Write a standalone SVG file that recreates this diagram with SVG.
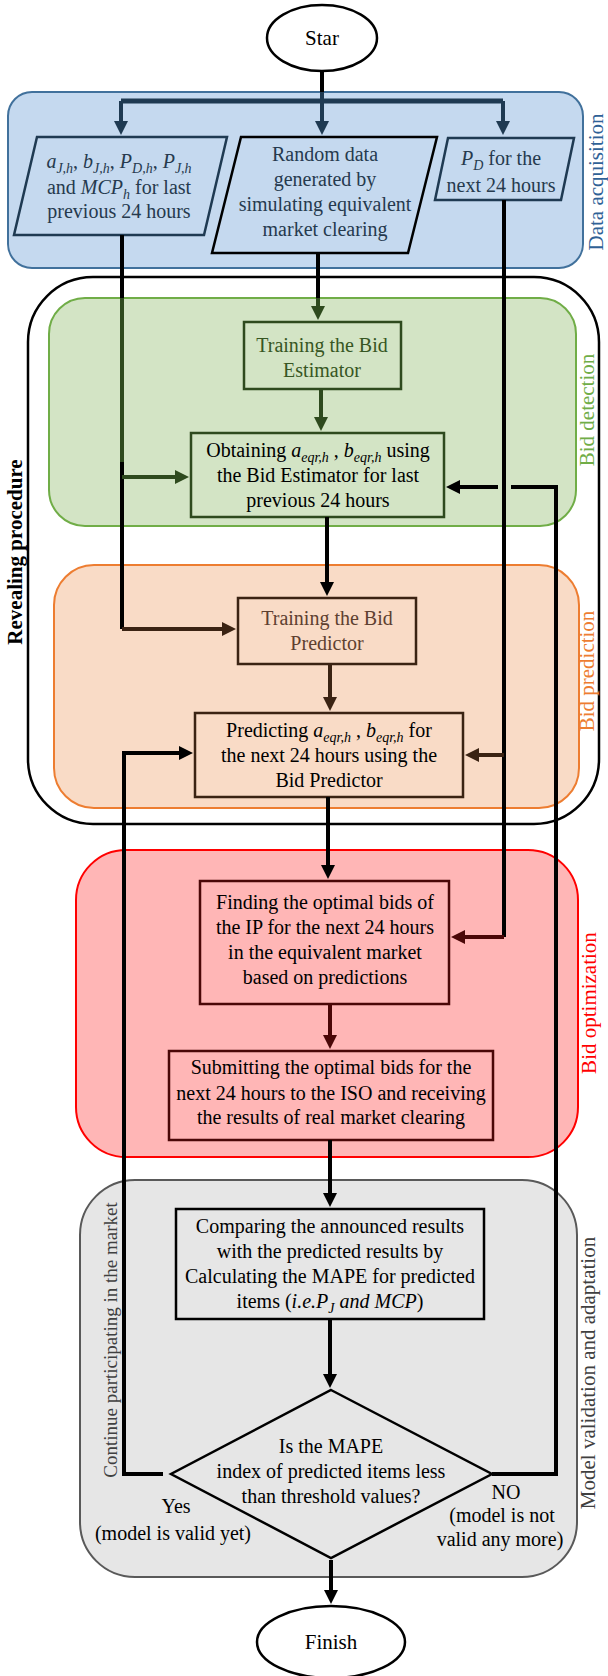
<svg xmlns="http://www.w3.org/2000/svg" width="608" height="1676" viewBox="0 0 608 1676">
<style>
.t{font-family:"Liberation Serif","Times New Roman",serif;font-size:20px;text-anchor:middle;fill:#000}
.i{font-style:italic}
.s{font-size:14px;font-style:italic}
.dq{fill:#263a4e}
.side{font-family:"Liberation Serif","Times New Roman",serif;font-size:21px;text-anchor:middle}
.c{fill:none;stroke-width:4;stroke-linejoin:miter}
.k{stroke:#000}
.nv{stroke:#1f3a52}
.gr{stroke:#2e4a1e}
.br{stroke:#3b2313}
.mr{stroke:#4a0707}
</style>
<defs>
<marker id="aN" markerUnits="userSpaceOnUse" markerWidth="14" markerHeight="14" viewBox="0 0 14 14" refX="4" refY="7" orient="auto"><path d="M0,0L14,7L0,14z" fill="#1f3a52"/></marker>
<marker id="aK" markerUnits="userSpaceOnUse" markerWidth="14" markerHeight="14" viewBox="0 0 14 14" refX="4" refY="7" orient="auto"><path d="M0,0L14,7L0,14z" fill="#000"/></marker>
<marker id="aG" markerUnits="userSpaceOnUse" markerWidth="14" markerHeight="14" viewBox="0 0 14 14" refX="4" refY="7" orient="auto"><path d="M0,0L14,7L0,14z" fill="#2e4a1e"/></marker>
<marker id="aB" markerUnits="userSpaceOnUse" markerWidth="14" markerHeight="14" viewBox="0 0 14 14" refX="4" refY="7" orient="auto"><path d="M0,0L14,7L0,14z" fill="#3b2313"/></marker>
<marker id="aM" markerUnits="userSpaceOnUse" markerWidth="14" markerHeight="14" viewBox="0 0 14 14" refX="4" refY="7" orient="auto"><path d="M0,0L14,7L0,14z" fill="#4a0707"/></marker>
</defs>

<!-- Group containers -->
<g id="data-acquisition">
<rect x="8" y="92" width="575" height="176" rx="24" fill="#c5d9ef" stroke="#41719c" stroke-width="2"/>
<text class="side" fill="#2f6196" transform="translate(603,182) rotate(-90)">Data acquisition</text>
</g>
<g id="revealing-procedure">
<rect x="28" y="277" width="571" height="547" rx="65" fill="#fff" stroke="#000" stroke-width="2.5"/>
<text class="side" font-weight="bold" fill="#000" transform="translate(22,552) rotate(-90)">Revealing procedure</text>
</g>
<g id="bid-detection">
<rect x="49" y="298" width="527" height="228" rx="36" fill="#d3e4c5" stroke="#70ad47" stroke-width="2"/>
<text class="side" fill="#70ad47" transform="translate(594,410) rotate(-90)">Bid detection</text>
</g>
<g id="bid-prediction">
<rect x="54" y="565" width="525" height="243" rx="40" fill="#f9dbc6" stroke="#ed7d31" stroke-width="2"/>
<text class="side" fill="#ed7d31" transform="translate(594,671) rotate(-90)">Bid prediction</text>
</g>
<g id="bid-optimization">
<rect x="76" y="850" width="502" height="307" rx="50" fill="#ffb6b6" stroke="#ff0000" stroke-width="2"/>
<text class="side" fill="#ff0000" transform="translate(596,1003) rotate(-90)">Bid optimization</text>
</g>
<g id="model-validation">
<rect x="80" y="1180" width="497" height="397" rx="55" fill="#e6e6e6" stroke="#595959" stroke-width="2"/>
<text class="side" fill="#404040" transform="translate(595,1373) rotate(-90)">Model validation and adaptation</text>
<text class="side" fill="#404040" style="font-size:19px" transform="translate(117,1340) rotate(-90)">Continue participating in the market</text>
</g>

<!-- Nodes -->
<g id="star">
<ellipse cx="322" cy="38" rx="55" ry="33" fill="#fff" stroke="#000" stroke-width="2.5"/>
<text class="t" x="322" y="45" style="font-size:21px">Star</text>
</g>
<g id="input-history">
<polygon points="37,137 227,137 204,235 14,235" fill="#c5d9ef" stroke="#1f3a52" stroke-width="2.5"/>
<text class="t dq" x="119" y="168"><tspan class="i">a</tspan><tspan class="s" dy="5">J,h</tspan><tspan dy="-5">, </tspan><tspan class="i">b</tspan><tspan class="s" dy="5">J,h</tspan><tspan dy="-5">, </tspan><tspan class="i">P</tspan><tspan class="s" dy="5">D,h</tspan><tspan dy="-5">, </tspan><tspan class="i">P</tspan><tspan class="s" dy="5">J,h</tspan></text>
<text class="t dq" x="119" y="194">and <tspan class="i">MCP</tspan><tspan class="s" dy="5">h</tspan><tspan dy="-5"> for last</tspan></text>
<text class="t dq" x="119" y="218">previous 24 hours</text>
</g>
<g id="random-data">
<polygon points="241,137 437,137 408,253 212,253" fill="#c5d9ef" stroke="#000" stroke-width="2.5"/>
<text class="t dq" x="325" y="161">Random data</text>
<text class="t dq" x="325" y="186">generated by</text>
<text class="t dq" x="325" y="211">simulating equivalent</text>
<text class="t dq" x="325" y="236">market clearing</text>
</g>
<g id="input-demand">
<polygon points="448,138 574,138 561,200 435,200" fill="#c5d9ef" stroke="#1f3a52" stroke-width="2.5"/>
<text class="t dq" x="501" y="165"><tspan class="i">P</tspan><tspan class="s" dy="5">D</tspan><tspan dy="-5"> for the</tspan></text>
<text class="t dq" x="501" y="192">next 24 hours</text>
</g>
<g id="train-estimator">
<rect x="244" y="322" width="157" height="67" fill="#d3e4c5" stroke="#2e4a1e" stroke-width="2.5"/>
<text class="t" x="322" y="352" style="fill:#375623">Training the Bid</text>
<text class="t" x="322" y="377" style="fill:#375623">Estimator</text>
</g>
<g id="obtain-bids">
<rect x="191" y="433" width="253" height="84" fill="#d3e4c5" stroke="#2e4a1e" stroke-width="2.5"/>
<text class="t" x="318" y="457">Obtaining <tspan class="i">a</tspan><tspan class="s" dy="5">eqr,h</tspan><tspan dy="-5"> , </tspan><tspan class="i">b</tspan><tspan class="s" dy="5">eqr,h</tspan><tspan dy="-5"> using</tspan></text>
<text class="t" x="318" y="482">the Bid Estimator for last</text>
<text class="t" x="318" y="507">previous 24 hours</text>
</g>
<g id="train-predictor">
<rect x="238" y="598" width="178" height="66" fill="#f9dbc6" stroke="#3b2313" stroke-width="2.5"/>
<text class="t" x="327" y="625" style="fill:#5e4030">Training the Bid</text>
<text class="t" x="327" y="650" style="fill:#5e4030">Predictor</text>
</g>
<g id="predict-bids">
<rect x="195" y="713" width="268" height="84" fill="#f9dbc6" stroke="#3b2313" stroke-width="2.5"/>
<text class="t" x="329" y="737">Predicting <tspan class="i">a</tspan><tspan class="s" dy="5">eqr,h</tspan><tspan dy="-5"> , </tspan><tspan class="i">b</tspan><tspan class="s" dy="5">eqr,h</tspan><tspan dy="-5"> for</tspan></text>
<text class="t" x="329" y="762">the next 24 hours using the</text>
<text class="t" x="329" y="787">Bid Predictor</text>
</g>
<g id="find-optimal">
<rect x="200" y="881" width="249" height="123" fill="#ffb6b6" stroke="#4a0707" stroke-width="2.5"/>
<text class="t" x="325" y="909">Finding the optimal bids of</text>
<text class="t" x="325" y="934">the IP for the next 24 hours</text>
<text class="t" x="325" y="959">in the equivalent market</text>
<text class="t" x="325" y="984">based on predictions</text>
</g>
<g id="submit-bids">
<rect x="169" y="1051" width="324" height="89" fill="#ffb6b6" stroke="#4a0707" stroke-width="2.5"/>
<text class="t" x="331" y="1074">Submitting the optimal bids for the</text>
<text class="t" x="331" y="1100">next 24 hours to the ISO and receiving</text>
<text class="t" x="331" y="1124">the results of real market clearing</text>
</g>
<g id="compare">
<rect x="176" y="1209" width="308" height="110" fill="#e6e6e6" stroke="#000" stroke-width="2.5"/>
<text class="t" x="330" y="1233">Comparing the announced results</text>
<text class="t" x="330" y="1258">with the predicted results by</text>
<text class="t" x="330" y="1283">Calculating the MAPE for predicted</text>
<text class="t" x="330" y="1308">items (<tspan class="i">i.e.P</tspan><tspan class="s" dy="5">J</tspan><tspan class="i" dy="-5"> and MCP</tspan>)</text>
</g>
<g id="decision">
<polygon points="331,1390 492,1474 331,1558 171,1474" fill="#e6e6e6" stroke="#000" stroke-width="2.5"/>
<text class="t" x="331" y="1453">Is the MAPE</text>
<text class="t" x="331" y="1478">index of predicted items less</text>
<text class="t" x="331" y="1503">than threshold values?</text>
<text class="t" x="176" y="1513">Yes</text>
<text class="t" x="173" y="1540">(model is valid yet)</text>
<text class="t" x="506" y="1499">NO</text>
<text class="t" x="502" y="1522">(model is not</text>
<text class="t" x="500" y="1546">valid any more)</text>
</g>
<g id="finish">
<ellipse cx="331" cy="1642" rx="74" ry="36" fill="#fff" stroke="#000" stroke-width="2.5"/>
<text class="t" x="331" y="1649" style="font-size:21px">Finish</text>
</g>

<!-- Connectors -->
<g id="connectors">
<path class="c nv" d="M322,71V125" marker-end="url(#aN)"/>
<path class="c k" d="M322,71V92"/>
<path class="c nv" d="M121,101H503" style="stroke-width:5"/>
<path class="c nv" d="M121,101V125" marker-end="url(#aN)"/>
<path class="c nv" d="M503,101V125" marker-end="url(#aN)"/>

<path class="c k" d="M122,235V629"/>
<path class="c gr" d="M122,298V462"/>
<path class="c gr" d="M122,477H179" marker-end="url(#aG)"/>
<path class="c br" d="M122,629H226" marker-end="url(#aB)"/>

<path class="c k" d="M318,253V298"/>
<path class="c gr" d="M318,298V310" marker-end="url(#aG)"/>
<path class="c gr" d="M321,389V421" marker-end="url(#aG)"/>
<path class="c k" d="M327,517V586" marker-end="url(#aK)"/>
<path class="c br" d="M330,664V701" marker-end="url(#aB)"/>
<path class="c k" d="M328,797V869" marker-end="url(#aK)"/>
<path class="c mr" d="M330,1004V1039" marker-end="url(#aM)"/>
<path class="c k" d="M330,1140V1197" marker-end="url(#aK)"/>
<path class="c k" d="M330,1319V1378" marker-end="url(#aK)"/>
<path class="c k" d="M331,1560V1594" marker-end="url(#aK)"/>

<path class="c k" d="M504,200V937"/>
<path class="c mr" d="M504,937H461" marker-end="url(#aM)"/>
<path class="c br" d="M504,755H475" marker-end="url(#aB)"/>

<path class="c k" d="M492,1474H556V487H511"/>
<path class="c k" d="M498,487H456" marker-end="url(#aK)"/>

<path class="c k" d="M163,1474H124V753H183" marker-end="url(#aK)"/>
</g>
</svg>
